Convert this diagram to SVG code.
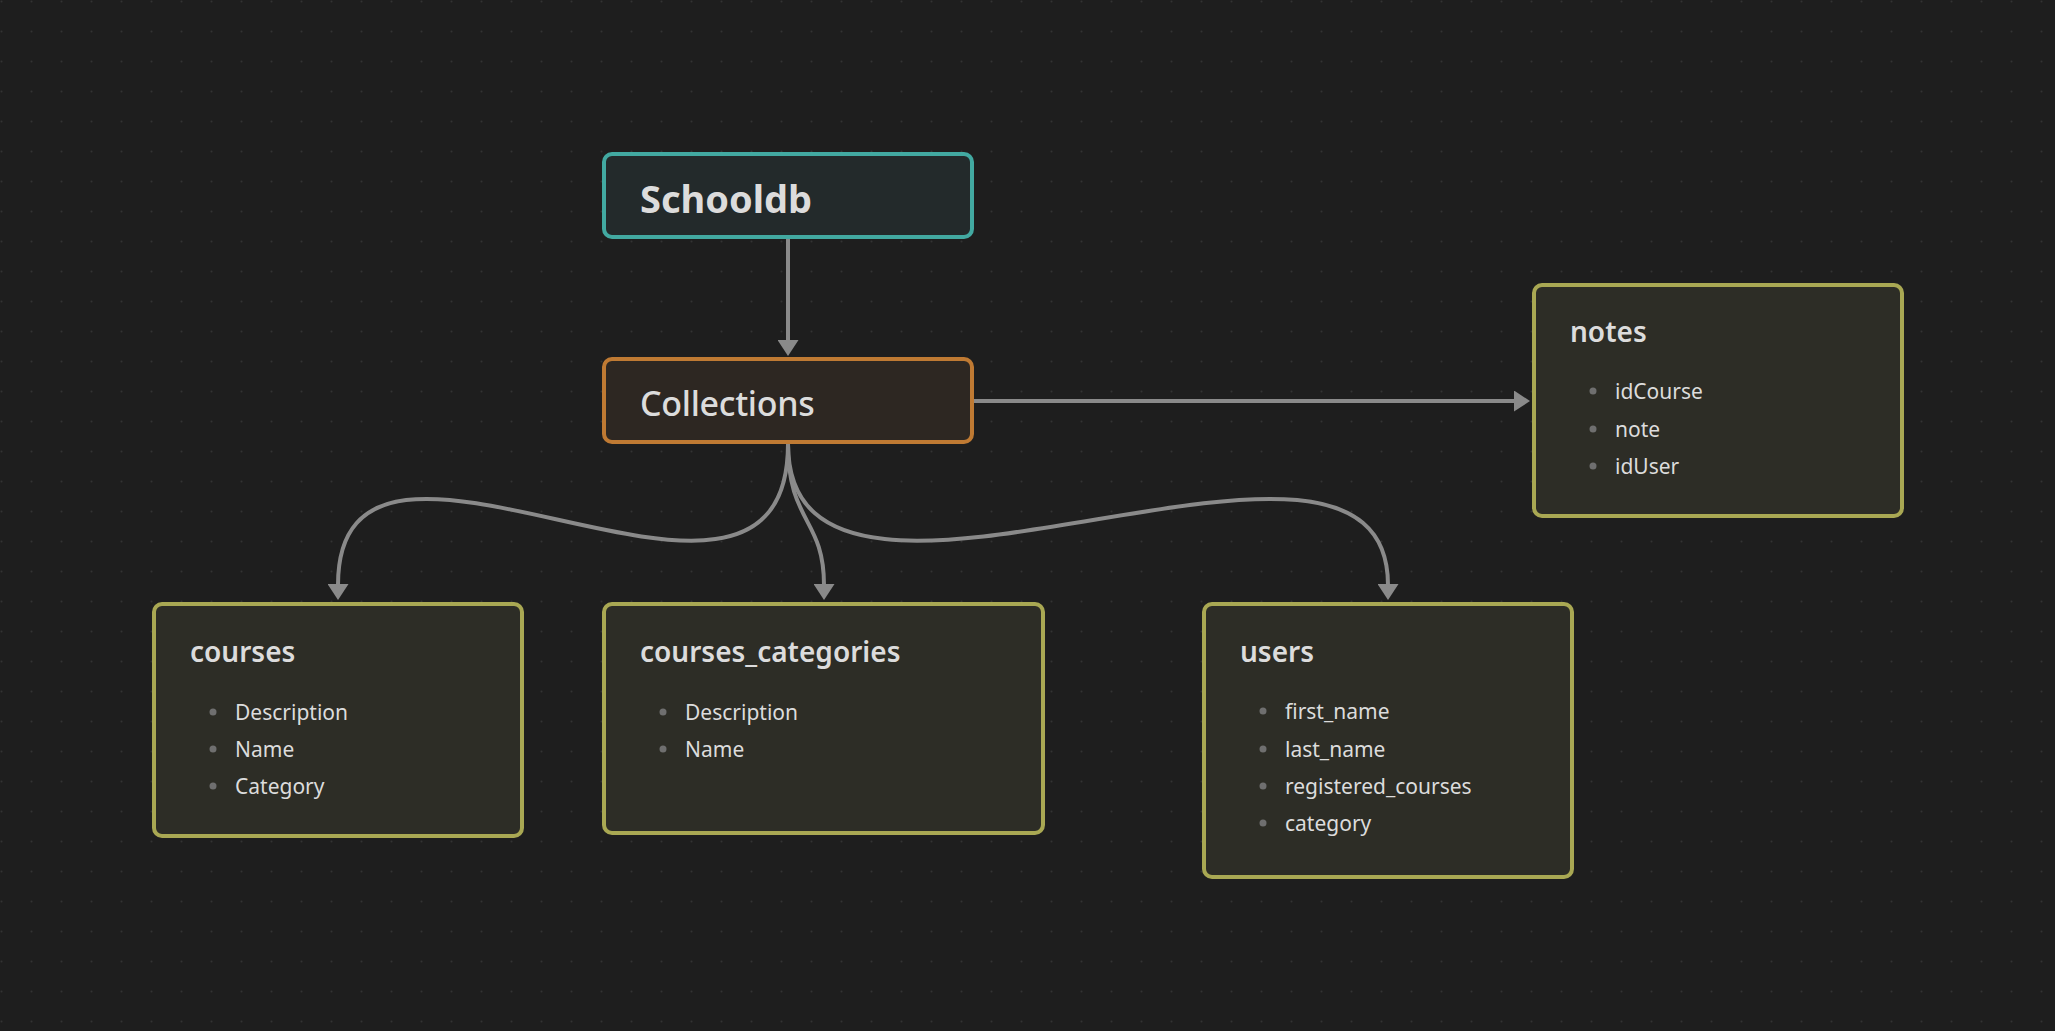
<svg xmlns="http://www.w3.org/2000/svg" width="2055" height="1031" viewBox="0 0 2055 1031">
  <defs>
    <pattern id="grid" x="0" y="0" width="30" height="30" patternUnits="userSpaceOnUse">
      <circle cx="1.5" cy="1.5" r="1" fill="#333333"/>
    </pattern>
    <marker id="arrow" markerUnits="userSpaceOnUse" markerWidth="17" markerHeight="21" viewBox="0 0 16 21" refX="1" refY="10.5" orient="auto">
      <path d="M0,0 L16,10.5 L0,21 Z" fill="#8a8a8a"/>
    </marker>
    <style>
      .edge { fill: none; stroke: #8a8a8a; stroke-width: 4; marker-end: url(#arrow); }
      .node { stroke-width: 4; }
      .teal { fill: #232a2b; stroke: #42a9a1; }
      .orange { fill: #2d2722; stroke: #bf7a33; }
      .olive { fill: #2d2d26; stroke: #a9a853; }
      .t { font-family: "Noto Sans", "Open Sans", sans-serif; fill: #dcdcdc; }
      .h1 { font-size: 38px; font-weight: 700; }
      .h2 { font-size: 34px; font-weight: 500; letter-spacing: -0.3px; }
      .h3 { font-size: 28px; font-weight: 600; }
      .li { font-size: 21px; font-weight: 400; }
      .b { fill: #6f6f6f; }
    </style>
  </defs>
  <rect width="2055" height="1031" fill="#1e1e1e"/>
  <rect width="2055" height="1031" fill="url(#grid)"/>

  <g id="connectors">
    <path class="edge" d="M788,239 L788,341"/>
    <path class="edge" d="M974,401 L1515,401"/>
    <path class="edge" d="M788,444 C788,694 338,352 338,585"/>
    <path class="edge" d="M788,444 C788,523 824,518 824,585"/>
    <path class="edge" d="M788,444 C788,694 1388,352 1388,585"/>
  </g>

  <g id="schooldb">
    <rect class="node teal" x="604" y="154" width="368" height="83" rx="8"/>
    <text class="t h1" x="640" y="213">Schooldb</text>
  </g>

  <g id="collections">
    <rect class="node orange" x="604" y="359" width="368" height="83" rx="8"/>
    <text class="t h2" x="640" y="416">Collections</text>
  </g>

  <g id="notes">
    <rect class="node olive" x="1534" y="285" width="368" height="231" rx="8"/>
    <text class="t h3" x="1570" y="342">notes</text>
    <circle class="b" cx="1593" cy="391" r="3.5"/>
    <text class="t li" x="1615" y="399">idCourse</text>
    <circle class="b" cx="1593" cy="429" r="3.5"/>
    <text class="t li" x="1615" y="437">note</text>
    <circle class="b" cx="1593" cy="466" r="3.5"/>
    <text class="t li" x="1615" y="474">idUser</text>
  </g>

  <g id="courses">
    <rect class="node olive" x="154" y="604" width="368" height="232" rx="8"/>
    <text class="t h3" x="190" y="662">courses</text>
    <circle class="b" cx="213" cy="712" r="3.5"/>
    <text class="t li" x="235" y="720">Description</text>
    <circle class="b" cx="213" cy="749" r="3.5"/>
    <text class="t li" x="235" y="757">Name</text>
    <circle class="b" cx="213" cy="786" r="3.5"/>
    <text class="t li" x="235" y="794">Category</text>
  </g>

  <g id="courses_categories">
    <rect class="node olive" x="604" y="604" width="439" height="229" rx="8"/>
    <text class="t h3" x="640" y="662">courses_categories</text>
    <circle class="b" cx="663" cy="712" r="3.5"/>
    <text class="t li" x="685" y="720">Description</text>
    <circle class="b" cx="663" cy="749" r="3.5"/>
    <text class="t li" x="685" y="757">Name</text>
  </g>

  <g id="users">
    <rect class="node olive" x="1204" y="604" width="368" height="273" rx="8"/>
    <text class="t h3" x="1240" y="662">users</text>
    <circle class="b" cx="1263" cy="711" r="3.5"/>
    <text class="t li" x="1285" y="719">first_name</text>
    <circle class="b" cx="1263" cy="749" r="3.5"/>
    <text class="t li" x="1285" y="757">last_name</text>
    <circle class="b" cx="1263" cy="786" r="3.5"/>
    <text class="t li" x="1285" y="794">registered_courses</text>
    <circle class="b" cx="1263" cy="823" r="3.5"/>
    <text class="t li" x="1285" y="831">category</text>
  </g>
</svg>
